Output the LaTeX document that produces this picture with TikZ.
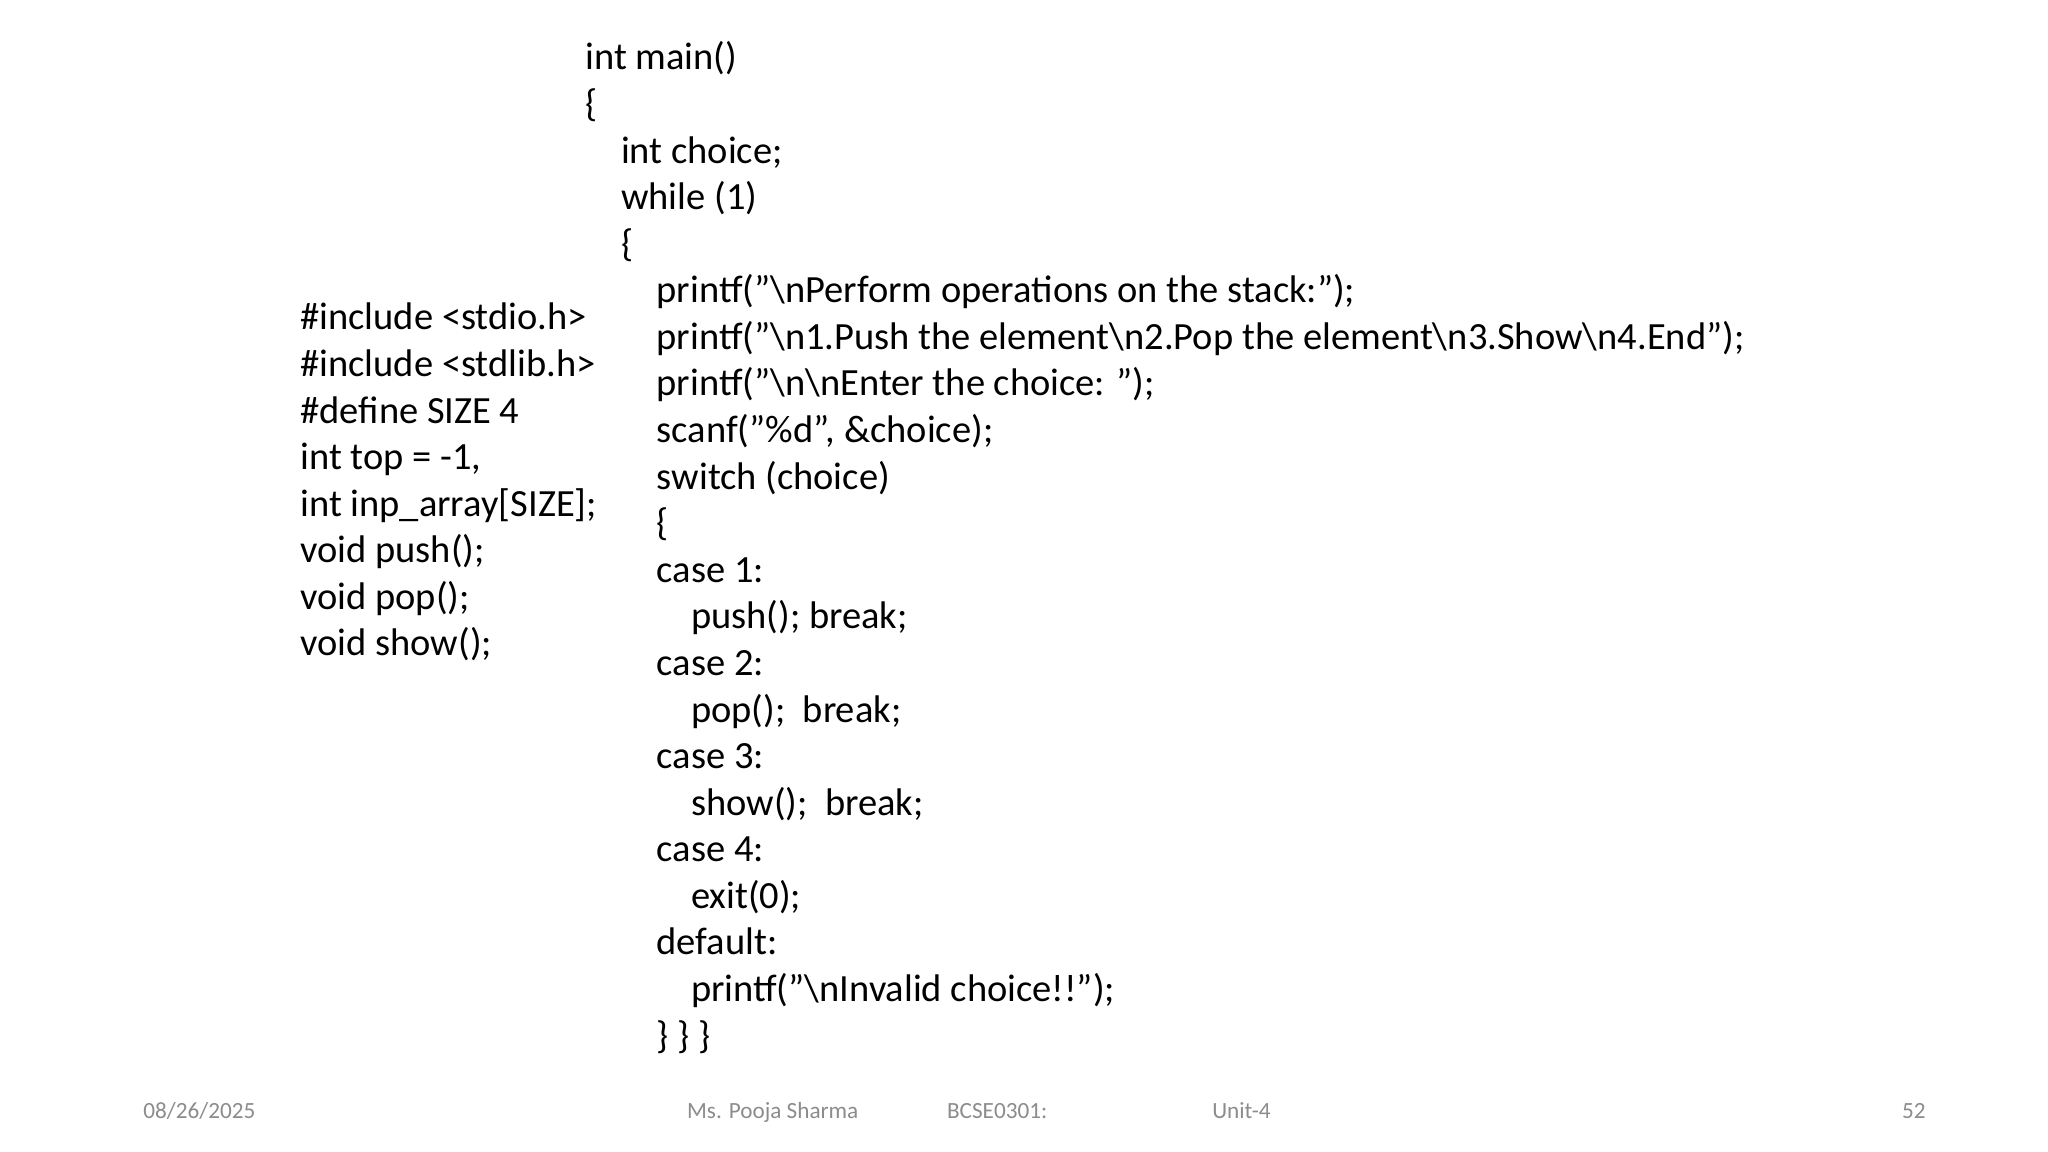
\documentclass[tikz,border=0pt]{standalone}
\usepackage{fontspec}
\setmainfont{Carlito}
\begin{document}
\begin{tikzpicture}[code/.style={anchor=base west,inner sep=0pt,font=\fontsize{8.3pt}{10pt}\selectfont},
foot/.style={anchor=base west,inner sep=0pt,text=black!45,font=\fontsize{5pt}{6pt}\selectfont}]
\useasboundingbox[fill=white] (0,0) rectangle (15.52,-8.73);
\def\B#1{-0.53-0.353*(#1-1)}
\node[code] (r1) at (4.43,{\B{1}}) {int main()};
\node[code] (r2) at (4.43,{\B{2}}) {\{};
\node[code] (r3) at (4.70,{\B{3}}) {int choice;};
\node[code] (r4) at (4.70,{\B{4}}) {while (1)};
\node[code] (r5) at (4.70,{\B{5}}) {\{};
\node[code] (r6) at (4.97,{\B{6}}) {printf("\textbackslash nPerform operations on the stack:");};
\node[code] (r7) at (4.97,{\B{7}}) {printf("\textbackslash n1.Push the element\textbackslash n2.Pop the element\textbackslash n3.Show\textbackslash n4.End");};
\node[code] (r8) at (4.97,{\B{8}}) {printf("\textbackslash n\textbackslash nEnter the choice: ");};
\node[code] (r9) at (4.97,{\B{9}}) {scanf("\%d", \&choice);};
\node[code] (r10) at (4.97,{\B{10}}) {switch (choice)};
\node[code] (r11) at (4.97,{\B{11}}) {\{};
\node[code] (r12) at (4.97,{\B{12}}) {case 1:};
\node[code] (r13) at (5.23,{\B{13}}) {push(); break;};
\node[code] (r14) at (4.97,{\B{14}}) {case 2:};
\node[code] (r15) at (5.23,{\B{15}}) {pop();\ \ break;};
\node[code] (r16) at (4.97,{\B{16}}) {case 3:};
\node[code] (r17) at (5.23,{\B{17}}) {show();\ \ break;};
\node[code] (r18) at (4.97,{\B{18}}) {case 4:};
\node[code] (r19) at (5.23,{\B{19}}) {exit(0);};
\node[code] (r20) at (4.97,{\B{20}}) {default:};
\node[code] (r21) at (5.23,{\B{21}}) {printf("\textbackslash nInvalid choice!!");};
\node[code] (r22) at (4.97,{\B{22}}) {\} \} \}};
\def\L#1{-2.50-0.353*(#1-1)}
\node[code] (a1) at (2.27,{\L{1}}) {\#include <stdio.h>};
\node[code] (a2) at (2.27,{\L{2}}) {\#include <stdlib.h>};
\node[code] (a3) at (2.27,{\L{3}}) {\#define SIZE 4};
\node[code] (a4) at (2.27,{\L{4}}) {int top = -1,};
\node[code] (a5) at (2.27,{\L{5}}) {int inp\_array[SIZE];};
\node[code] (a6) at (2.27,{\L{6}}) {void push();};
\node[code] (a7) at (2.27,{\L{7}}) {void pop();};
\node[code] (a8) at (2.27,{\L{8}}) {void show();};
\node[foot] (f1) at (1.08,-8.48) {08/26/2025};
\node[foot] (f2) at (5.20,-8.48) {Ms. Pooja Sharma};
\node[foot] (f3) at (7.17,-8.48) {BCSE0301:};
\node[foot] (f4) at (9.18,-8.48) {Unit-4};
\node[foot,anchor=base east] (f5) at (14.60,-8.48) {52};
\end{tikzpicture}
\end{document}
